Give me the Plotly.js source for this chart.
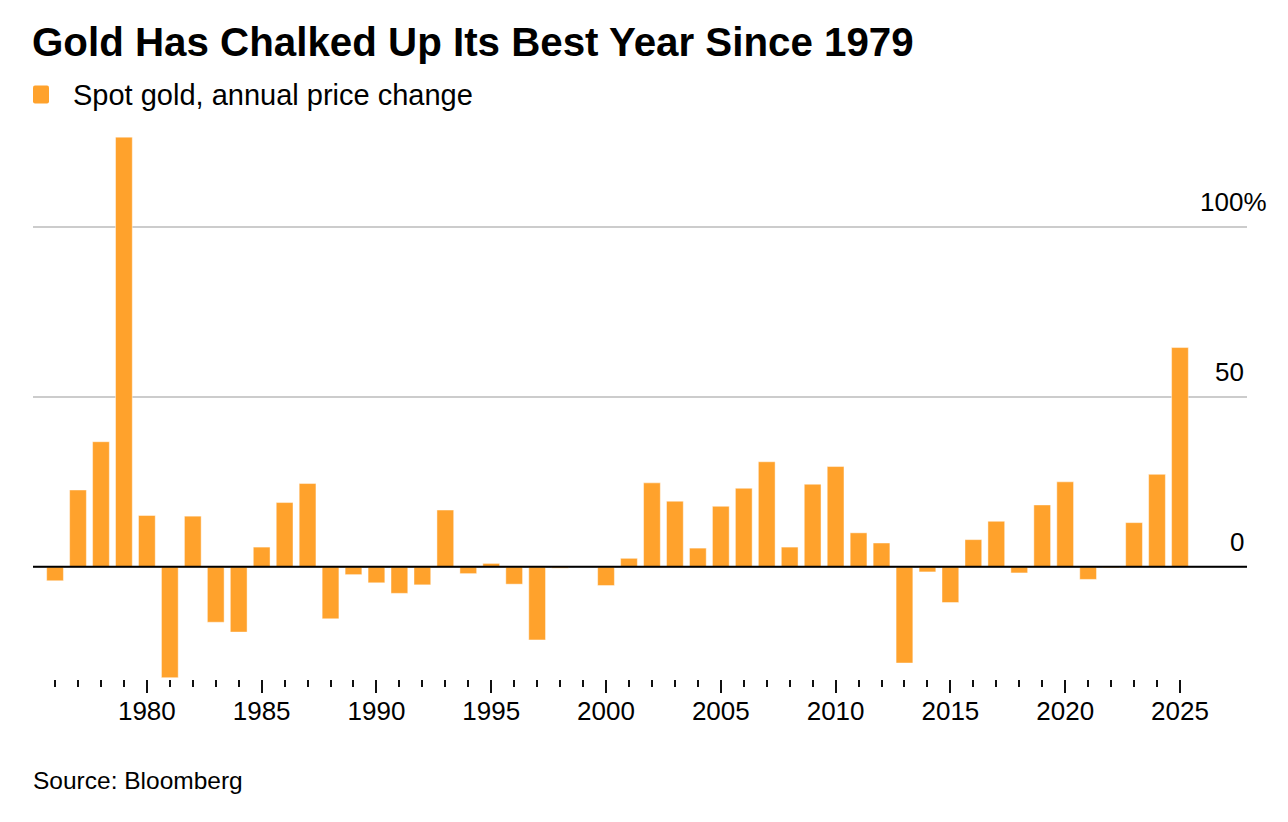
<!DOCTYPE html>
<html>
<head>
<meta charset="utf-8">
<script src="https://cdn.plot.ly/plotly-3.0.1.min.js"></script>
<style>
  html, body { margin: 0; padding: 0; background: #ffffff; }
  #chart { width: 1288px; height: 822px; }
</style>
</head>
<body>
<div id="chart"></div>
<script>
// ---- Data ----
const chartTitle = "Gold Has Chalked Up Its Best Year Since 1979";
const seriesName = "Spot gold, annual price change";
const sourceText = "Source: Bloomberg";

const years = [
  1976, 1977, 1978, 1979, 1980, 1981, 1982, 1983, 1984, 1985,
  1986, 1987, 1988, 1989, 1990, 1991, 1992, 1993, 1994, 1995,
  1996, 1997, 1998, 1999, 2000, 2001, 2002, 2003, 2004, 2005,
  2006, 2007, 2008, 2009, 2010, 2011, 2012, 2013, 2014, 2015,
  2016, 2017, 2018, 2019, 2020, 2021, 2022, 2023, 2024, 2025
];
const annualChange = [
  -4.1, 22.6, 36.8, 126.4, 15.1, -32.6, 14.9, -16.3, -19.2, 5.8,
  18.9, 24.5, -15.3, -2.3, -4.7, -7.8, -5.3, 16.7, -2.0, 1.0,
  -5.1, -21.5, -0.4, 0.2, -5.5, 2.5, 24.7, 19.3, 5.5, 17.8,
  23.1, 30.9, 5.8, 24.3, 29.5, 10.0, 7.0, -28.3, -1.5, -10.5,
  8.0, 13.4, -1.8, 18.2, 25.0, -3.7, -0.3, 13.0, 27.2, 64.5
];

const xTickVals = [1980, 1985, 1990, 1995, 2000, 2005, 2010, 2015, 2020, 2025];
const xTickText = ["1980", "1985", "1990", "1995", "2000", "2005", "2010", "2015", "2020", "2025"];
const yTickVals = [0, 50, 100];
const yTickText = ["0", "50", "100%"];

// ---- Styling ----
const W = 1288, H = 822;
const M = { l: 33, r: 41, t: 130, b: 143 };
const plotW = W - M.l - M.r, plotH = H - M.t - M.b;
const px2x = px => (px - M.l) / plotW;
const px2y = py => (H - M.b - py) / plotH;

const GOLD = "#ffa22c";
const FONT = "'Liberation Sans', Arial, Helvetica, sans-serif";

const trace = {
  type: "bar",
  x: years,
  y: annualChange,
  name: seriesName,
  width: 0.73,
  marker: { color: GOLD, line: { color: "rgba(255,255,255,0.45)", width: 1 } },
  hoverinfo: "x+y",
  showlegend: false
};

const annotations = [];
yTickVals.forEach((v, i) => {
  const t = yTickText[i];
  annotations.push({
    xref: "paper", yref: "y", x: px2x(1246), y: v,
    xanchor: "right", yanchor: "bottom",
    xshift: t.endsWith("%") ? 23 : 0, yshift: 8,
    text: t, showarrow: false,
    font: { family: FONT, size: 26, color: "#000" }
  });
});
annotations.push({
  xref: "paper", yref: "paper", x: px2x(71), y: px2y(95),
  xanchor: "left", yanchor: "middle",
  text: seriesName, showarrow: false,
  font: { family: FONT, size: 29, color: "#000" }
});
annotations.push({
  xref: "paper", yref: "paper", x: px2x(31), y: px2y(780),
  xanchor: "left", yanchor: "middle",
  text: sourceText, showarrow: false,
  font: { family: FONT, size: 24.5, color: "#000" }
});

const shapes = [
  { // zero baseline above bars
    type: "line", xref: "paper", yref: "y", x0: 0, x1: 1, y0: 0, y1: 0,
    line: { color: "#000", width: 2 }, layer: "above"
  },
  { // legend swatch
    type: "path", xref: "paper", yref: "paper",
    xsizemode: "pixel", ysizemode: "pixel",
    xanchor: px2x(41), yanchor: px2y(94.5),
    path: "M-6,-9 H6 Q8,-9 8,-7 V7 Q8,9 6,9 H-6 Q-8,9 -8,7 V-7 Q-8,-9 -6,-9 Z",
    fillcolor: GOLD, line: { width: 0 }
  }
];

const layout = {
  width: W, height: H,
  margin: M,
  paper_bgcolor: "#fff", plot_bgcolor: "#fff",
  font: { family: FONT, color: "#000" },
  title: {
    text: "<b>" + chartTitle + "</b>",
    x: 32 / W, xanchor: "left", xref: "container",
    y: 1 - 42 / H, yanchor: "middle", yref: "container",
    font: { family: FONT, size: 40.3, color: "#000" }
  },
  bargap: 0.27,
  xaxis: {
    range: [1975.04, 2027.92],
    tickmode: "array", tickvals: xTickVals, ticktext: xTickText,
    ticks: "outside", ticklen: 13, tickwidth: 2, tickcolor: "#111",
    tickfont: { family: FONT, size: 26, color: "#000" },
    ticklabelstandoff: -4,
    showgrid: false, zeroline: false, showline: false,
    minor: { tickmode: "array", tickvals: years, ticks: "outside", ticklen: 7, tickwidth: 2, tickcolor: "#111", showgrid: false },
    fixedrange: true
  },
  yaxis: {
    range: [-33, 128.5],
    tickmode: "array", tickvals: yTickVals,
    showticklabels: false,
    showgrid: true, gridcolor: "#cccccc", gridwidth: 2,
    zeroline: false, showline: false, ticks: "",
    fixedrange: true
  },
  annotations: annotations,
  shapes: shapes,
  showlegend: false
};

Plotly.newPlot("chart", [trace], layout, { displayModeBar: false, staticPlot: true });
</script>
</body>
</html>
